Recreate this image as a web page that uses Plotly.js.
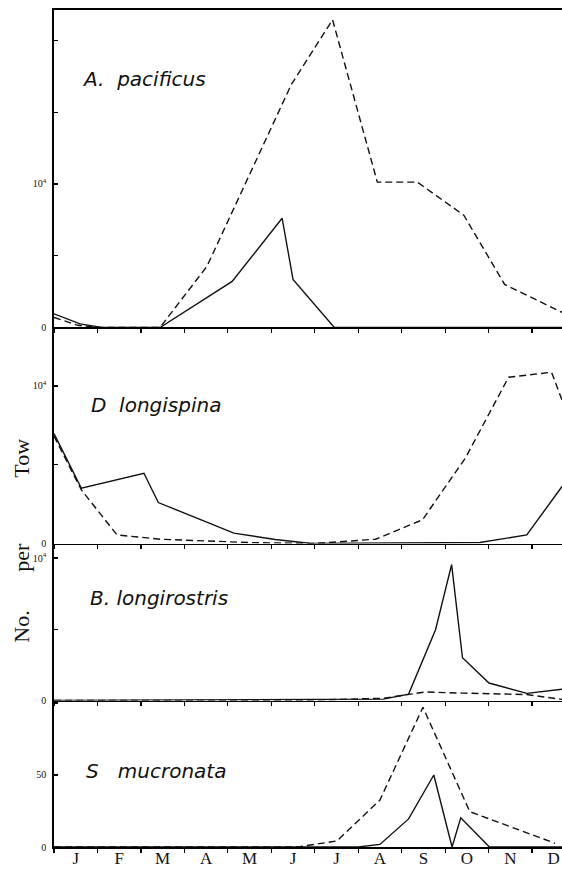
<!DOCTYPE html>
<html>
<head>
<meta charset="utf-8">
<script src="https://cdn.plot.ly/plotly-3.0.1.min.js"></script>
<style>
html,body{margin:0;padding:0;background:#fff;}
#chart{width:562px;height:870px;}
</style>
</head>
<body>
<div id="chart"></div>
<script>
// Month axis: 0 = 1 Jan, 1 unit = 1 month
const monthLabels = ['J','F','M','A','M','J','J','A','S','O','N','D'];
const monthLabelPos = [0.5,1.5,2.5,3.5,4.5,5.5,6.5,7.5,8.5,9.5,10.5,11.5];
const monthBounds = [0,1,2,3,4,5,6,7,8,9,10,11,12];

// A. pacificus
const pacSolidX = [0, 0.6, 1.1, 2.44, 4.1, 5.25, 5.5, 6.45, 11.69];
const pacSolidY = [950, 250, 0, 0, 3210, 7610, 3350, 0, 0];
const pacDashX  = [0, 0.55, 1.0, 2.44, 3.52, 5.46, 6.41, 7.44, 8.36, 9.43, 10.37, 11.69];
const pacDashY  = [700, 150, 0, 0, 4260, 16920, 21440, 10130, 10130, 7820, 3000, 1050];

// D. longispina
const lonSolidX = [0, 0.63, 2.07, 2.40, 4.14, 5.09, 5.92, 9.8, 10.88, 11.69];
const lonSolidY = [6970, 3510, 4460, 2600, 660, 250, 0, 60, 546, 3620];
const lonDashX  = [0, 0.63, 1.45, 2.44, 4.5, 6.0, 7.4, 8.48, 9.47, 10.46, 11.45, 11.69];
const lonDashY  = [6810, 3400, 546, 273, 60, 0, 273, 1505, 5440, 10550, 10870, 9100];

// B. longirostris
const bosSolidX = [0, 7.58, 8.16, 8.78, 9.15, 9.40, 10.01, 10.88, 11.69];
const bosSolidY = [0, 100, 450, 4970, 9540, 3000, 1230, 505, 790];
const bosDashX  = [0, 5.6, 7.58, 8.16, 8.55, 9.40, 10.88, 11.69];
const bosDashY  = [0, 0, 160, 450, 600, 520, 420, 80];

// S. mucronata
const sagSolidX = [0, 7.0, 7.5, 8.16, 8.74, 9.16, 9.36, 10.02, 11.69];
const sagSolidY = [0, 0, 1.8, 19.5, 50, 0, 20.3, 0, 0];
const sagDashX  = [0, 5.6, 6.51, 7.50, 8.49, 9.57, 11.53];
const sagDashY  = [0, 0, 4.2, 32.6, 97, 24.5, 2.6];

const lineSolid = {color:'#111', width:1.4};
const lineDash  = {color:'#111', width:1.4, dash:'7px,4px'};

function tr(x, y, i, line){
  const s = i === 1 ? '' : String(i);
  return {x:x, y:y, xaxis:'x'+s, yaxis:'y'+s, mode:'lines', line:line,
          showlegend:false, hoverinfo:'skip'};
}

const data = [
  tr(pacDashX, pacDashY, 1, lineDash), tr(pacSolidX, pacSolidY, 1, lineSolid),
  tr(lonDashX, lonDashY, 2, lineDash), tr(lonSolidX, lonSolidY, 2, lineSolid),
  tr(bosDashX, bosDashY, 3, lineDash), tr(bosSolidX, bosSolidY, 3, lineSolid),
  tr(sagDashX, sagDashY, 4, lineDash), tr(sagSolidX, sagSolidY, 4, lineSolid)
];

const serif = 'Liberation Serif, Times New Roman, serif';
const sans = 'DejaVu Sans, Verdana, sans-serif';

function xax(i){
  const a = {
    range:[0, 11.69], showgrid:false, zeroline:false,
    showline:true, linecolor:'#000', linewidth:1.8,
    tickmode:'array', tickvals:monthLabelPos, ticktext:monthLabels,
    ticks:'', ticklen:0, showticklabels: i === 4,
    ticklabelstandoff: -5,
    tickfont:{family:serif, size:17, color:'#111'},
    minor:{tickmode:'array', tickvals:monthBounds, ticks:'outside', ticklen:4, tickwidth:1.2, tickcolor:'#000', showgrid:false},
    anchor: i === 1 ? 'y' : 'y'+i,
    fixedrange:true
  };
  if (i !== 1) a.matches = 'x';
  if (i === 1) a.mirror = true;
  return a;
}
function yax(i, dom, rng, tv, tt, mv){
  return {
    domain:dom, range:rng, showgrid:false, zeroline:false,
    showline:true, linecolor:'#000', linewidth:1.8,
    tickmode:'array', tickvals:tv, ticktext:tt,
    ticks:'inside', ticklen:4, tickwidth:1.2, tickcolor:'#000',
    minor:{tickmode:'array', tickvals:mv, ticks:'inside', ticklen:4, tickwidth:1.2, tickcolor:'#000', showgrid:false},
    tickfont:{family:serif, size:10, color:'#111'},
    ticklabelstandoff:4,
    anchor: i === 1 ? 'x' : 'x'+i,
    fixedrange:true
  };
}

const sup4 = '10<sup>4</sup>';
const nb = n => '&nbsp;'.repeat(n);
const layout = {
  width:562, height:870,
  margin:{l:54, r:0, t:10, b:23},
  paper_bgcolor:'#fff', plot_bgcolor:'#fff',
  showlegend:false,
  xaxis: xax(1), xaxis2: xax(2), xaxis3: xax(3), xaxis4: xax(4),
  yaxis:  yax(1, [0.6207, 1], [0, 22120], [0,10000], ['0',sup4], [5000,15000,20000]),
  yaxis2: yax(2, [0.3626, 0.6207], [0, 13710], [0,10000], ['0',sup4], [5000]),
  yaxis3: yax(3, [0.175, 0.3626], [0, 11020], [0,10000], ['0',sup4], [5000]),
  yaxis4: yax(4, [0, 0.175], [0, 101.7], [0,50], ['0','50'], [100]),
  annotations:[
    {text:'<i>A.' + nb(2) + 'pacificus</i>', xref:'paper', yref:'paper', x:0.0512, y:0.9176, xanchor:'left', yanchor:'middle', showarrow:false, font:{family:sans, size:20, color:'#111'}},
    {text:'<i>D' + nb(2) + 'longispina</i>', xref:'paper', yref:'paper', x:0.0689, y:0.528, xanchor:'left', yanchor:'middle', showarrow:false, font:{family:sans, size:20, color:'#111'}},
    {text:'<i>B.' + nb(1) + 'longirostris</i>', xref:'paper', yref:'paper', x:0.0669, y:0.2975, xanchor:'left', yanchor:'middle', showarrow:false, font:{family:sans, size:20, color:'#111'}},
    {text:'<i>S' + nb(3) + 'mucronata</i>', xref:'paper', yref:'paper', x:0.059, y:0.0908, xanchor:'left', yanchor:'middle', showarrow:false, font:{family:sans, size:20, color:'#111'}},
    {text:'No.' + nb(7) + 'per' + nb(12) + 'Tow', xref:'paper', yref:'paper', x:-0.063, y:0.366, xanchor:'center', yanchor:'middle', textangle:-90, showarrow:false, font:{family:serif, size:22, color:'#111'}}
  ]
};

Plotly.newPlot('chart', data, layout, {staticPlot:true, displayModeBar:false});
</script>
</body>
</html>
